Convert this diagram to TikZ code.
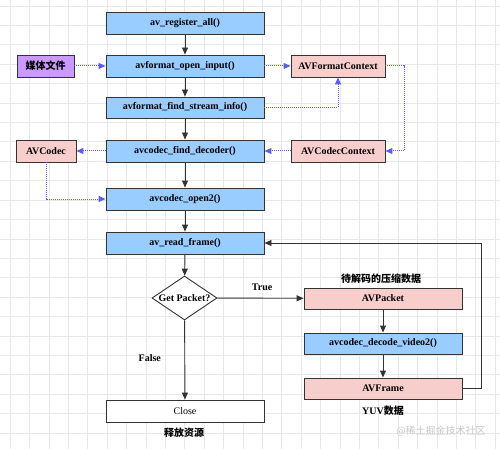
\documentclass[tikz,border=0pt]{standalone}
\usepackage{fontspec}
\setmainfont{Liberation Serif}
\newfontfamily\cjk{Noto Sans CJK SC}
\usetikzlibrary{shapes.geometric,arrows.meta}
\definecolor{bluefill}{HTML}{99CCFF}
\definecolor{pinkfill}{HTML}{F8CECC}
\definecolor{purplefill}{HTML}{CC99FF}
\definecolor{dotblue}{HTML}{5C5CF0}
\definecolor{edge}{HTML}{333333}
\definecolor{gridc}{HTML}{E8E8E8}
\tikzset{
  box/.style={draw=edge, line width=0.9pt, minimum width=158pt, minimum height=22pt, inner sep=0pt, font=\bfseries\fontsize{10}{12}\selectfont, text=black},
  bluebox/.style={box, fill=bluefill},
  pinkbox/.style={box, fill=pinkfill},
  flow/.style={draw=edge, line width=0.9pt, -{Triangle[length=7pt,width=6pt]}},
  dots/.style={draw=dotblue, line width=1pt, densely dotted, -{Triangle[length=7pt,width=6pt]}},
  lbl/.style={font=\bfseries\fontsize{10}{12}\selectfont, inner sep=0pt},
  cjklbl/.style={font=\cjk\bfseries\fontsize{10}{12}\selectfont, inner sep=0pt},
}
\begin{document}
\begin{tikzpicture}[x=1pt,y=-1pt]
\useasboundingbox (0,0) rectangle (500,449);
\fill[white] (0,0) rectangle (500,449);
\foreach \i in {0,...,25} {
  \draw[gridc, line width=0.6pt] (10+19.4*\i,0) -- (10+19.4*\i,449);
}
\foreach \j in {0,...,23} {
  \draw[gridc, line width=0.6pt] (0,6+19.4*\j) -- (500,6+19.4*\j);
}
% main column
\node[bluebox] (reg) at (185,23) {av\_register\_all()};
\node[bluebox] (open) at (185,66) {avformat\_open\_input()};
\node[bluebox, minimum height=21pt] (find) at (185,107.5) {avformat\_find\_stream\_info()};
\node[bluebox] (dec) at (185,151) {avcodec\_find\_decoder()};
\node[bluebox] (open2) at (185,199) {avcodec\_open2()};
\node[bluebox] (read) at (185,243) {av\_read\_frame()};
\node[diamond, draw=edge, line width=0.9pt, fill=white, minimum width=65pt, minimum height=44pt, inner sep=0pt, font=\bfseries\fontsize{10}{12}\selectfont] (pkt) at (184.5,298) {\makebox[0pt]{Get Packet?}};
\node[box, fill=white, font=\fontsize{10}{12}\selectfont] (close) at (185,411) {Close};
\node[cjklbl] (rel) at (184,433) {释放资源};
% side boxes
\node[box, fill=purplefill, minimum width=57pt, font=\cjk\bfseries\fontsize{10}{12}\selectfont] (media) at (45.5,66) {媒体文件};
\node[pinkbox, minimum width=60pt] (avcodec) at (46,151) {AVCodec};
\node[pinkbox, minimum width=94pt] (fmtctx) at (338,66) {AVFormatContext};
\node[pinkbox, minimum width=94pt] (codctx) at (338,151) {AVCodecContext};
% right column
\node[pinkbox, minimum height=21pt] (avpacket) at (383,298.5) {AVPacket};
\node[bluebox, minimum height=21pt] (decv) at (383,343.5) {avcodec\_decode\_video2()};
\node[pinkbox, minimum height=21pt] (avframe) at (383,388.5) {AVFrame};
\node[cjklbl] (pktlbl) at (381,279) {待解码的压缩数据};
\node[lbl] (yuv) at (383,411) {YUV\cjk 数据};
\node[font=\cjk\fontsize{10}{12}\selectfont, text=black!22, inner sep=0pt] (wm) at (441,431) {@稀土掘金技术社区};
% flow arrows
\draw[flow] (reg) -- (open);
\draw[flow] (open) -- (find);
\draw[flow] (find) -- (dec);
\draw[flow] (dec) -- (open2);
\draw[flow] (open2) -- (read);
\draw[flow] (read) -- (pkt);
\draw[flow] (pkt) -- node[lbl, pos=0.48, xshift=-35pt] (false) {False} (close);
\draw[flow] (pkt) -- node[lbl, pos=0.52, yshift=11pt] (true) {True} (avpacket);
\draw[flow] (avpacket) -- (decv);
\draw[flow] (decv) -- (avframe);
\coordinate (loopc) at (481,388.5);
\draw[flow] (avframe.east) -- (loopc) |- (read.east);
% dotted arrows
\draw[dots] (media) -- (open);
\draw[dots] (open) -- (fmtctx);
\draw[dots] (find.east) -| (fmtctx.south);
\coordinate (ctxc) at (404,66);
\draw[dots] (fmtctx.east) -- (ctxc) |- (codctx.east);
\draw[dots] (codctx) -- (dec);
\draw[dots] (dec) -- (avcodec);
\draw[dots] (avcodec.south) |- (open2.west);
\end{tikzpicture}
\end{document}
